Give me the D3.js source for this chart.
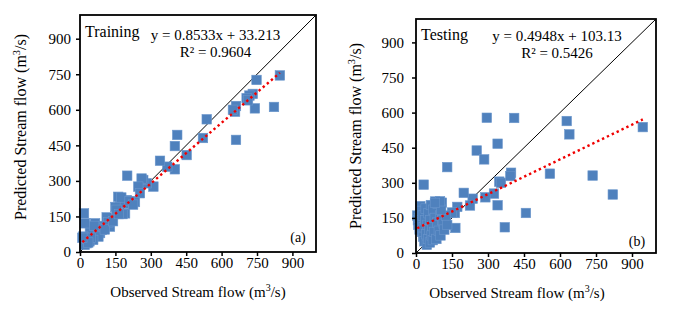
<!DOCTYPE html>
<html><head><meta charset="utf-8">
<script src="https://cdn.jsdelivr.net/npm/d3@7"></script>
<style>
body{margin:0;background:#fff;}
svg{display:block;}
text{font-family:"Liberation Serif","Times New Roman",serif;fill:#000;}
</style>
</head><body><svg id="c" width="678" height="314"></svg>
<script>
// ---------- data ----------
const tickValues = [0, 150, 300, 450, 600, 750, 900];
const axisMax = [1000];

const trainObs = [847,748,822,741,732,718,706,712,661,657,648,661,537,521,412,402,452,402,370,339,311,282,268,261,247,254,233,200,198,185,169,162,175,191,180,150,155,135,127,113,120,100,92,85,64,70,60,50,42,78,56,40,28,20,14,21,17,30,45,35,10,60,105,140,210,225,165];
const trainPred = [745,726,612,606,667,660,649,640,616,592,600,473,560,481,494,447,409,349,360,385,276,290,304,310,276,248,211,322,219,205,208,233,230,163,160,190,178,140,107,146,125,110,93,80,121,100,90,75,86,65,51,45,37,30,65,121,163,55,60,40,60,110,95,130,215,200,160];
const trainFit = [0.8533, 33.213];
const trainLabels = ["Training", "y = 0.8533x + 33.213", "R² = 0.9604", "(a)"];

const testObs = [945,628,639,558,736,820,458,370,295,409,340,253,284,396,393,347,354,325,289,236,225,340,199,172,162,164,130,32,150,
  5,8,10,12,15,18,20,22,25,28,30,32,35,38,40,42,45,48,50,52,55,58,60,62,65,68,70,72,75,78,80,85,88,90,95,100,102,108,110,115,118,125,130,105,100,79];
const testPred = [538,564,507,339,331,250,171,110,578,577,467,438,400,343,329,305,300,254,238,232,203,204,257,197,171,107,367,292,173,
  160,140,120,150,100,200,180,130,90,160,70,110,50,140,190,80,35,120,60,170,100,45,140,205,75,115,55,185,90,150,220,60,130,210,95,160,75,215,140,125,100,160,120,185,221,214];
const testFit = [0.4948, 103.13];
const testLabels = ["Testing", "y = 0.4948x + 103.13", "R² = 0.5426", "(b)"];

const xTitle = "Observed Stream flow (m";
const yTitle = "Predicted Stream flow (m";

// ---------- drawing ----------
const svg = d3.select("#c");

function panel(cfg, obs, pred, fit, labels) {
  const x = d3.scaleLinear().domain([0, axisMax[0]]).range([cfg.left, cfg.right]);
  const y = d3.scaleLinear().domain([0, axisMax[0]]).range([cfg.bottom, cfg.top]);
  const g = svg.append("g");

  // 1:1 line
  g.append("line")
    .attr("x1", x(0)).attr("y1", y(0)).attr("x2", x(axisMax[0])).attr("y2", y(axisMax[0]))
    .attr("stroke", "#000").attr("stroke-width", 1);

  // points
  const pts = obs.map((v, i) => [v, pred[i]]);
  const s = 9.5;
  g.selectAll("rect.pt").data(pts).join("rect").attr("class", "pt")
    .attr("x", d => x(d[0]) - s / 2).attr("y", d => y(d[1]) - s / 2)
    .attr("width", s).attr("height", s)
    .attr("fill", "#4f81bd").attr("stroke", "#6a96cc").attr("stroke-width", 0.6);

  // trend line
  const xmin = d3.min(obs), xmax = d3.max(obs);
  g.append("line")
    .attr("x1", x(xmin)).attr("y1", y(fit[0] * xmin + fit[1]))
    .attr("x2", x(xmax)).attr("y2", y(fit[0] * xmax + fit[1]))
    .attr("stroke", "#f00000").attr("stroke-width", 2.4)
    .attr("stroke-dasharray", "2.4 3");

  // frame
  g.append("rect").attr("x", cfg.left).attr("y", cfg.top)
    .attr("width", cfg.right - cfg.left).attr("height", cfg.bottom - cfg.top)
    .attr("fill", "none").attr("stroke", "#000").attr("stroke-width", 1.8);

  // axes
  const ax = g.append("g").attr("transform", `translate(0,${cfg.bottom})`)
    .call(d3.axisBottom(x).tickValues(tickValues).tickSize(4).tickPadding(1));
  const ay = g.append("g").attr("transform", `translate(${cfg.left},0)`)
    .call(d3.axisLeft(y).tickValues(tickValues).tickSize(4).tickPadding(cfg.yPad));
  [ax, ay].forEach(a => {
    a.select(".domain").remove();
    a.selectAll(".tick line").attr("stroke", "#000").attr("stroke-width", 1.5);
    a.selectAll(".tick text").style("font-family", '"Liberation Serif","Times New Roman",serif')
      .style("font-size", "15px").attr("fill", "#000");
  });

  // axis titles
  const xt = g.append("text").attr("x", cfg.xTitleX).attr("y", cfg.xTitleY)
    .attr("text-anchor", "middle").style("font-size", "15px");
  xt.append("tspan").text(xTitle);
  xt.append("tspan").text("3").attr("dy", -6).style("font-size", "10px");
  xt.append("tspan").text("/s)").attr("dy", 6);

  const yt = g.append("text")
    .attr("transform", `translate(${cfg.yTitleX},${cfg.yTitleY}) rotate(-90)`)
    .attr("text-anchor", "middle").style("font-size", cfg.yTitleSize + "px");
  yt.append("tspan").text(yTitle);
  yt.append("tspan").text("3").attr("dy", -cfg.yTitleSize * 0.4).style("font-size", (cfg.yTitleSize * 0.65) + "px");
  yt.append("tspan").text("/s)").attr("dy", cfg.yTitleSize * 0.4);

  // labels
  g.append("text").attr("x", cfg.left + 5).attr("y", cfg.nameY).style("font-size", "16px").text(labels[0]);
  g.append("text").attr("x", cfg.eqX).attr("y", cfg.eqY).attr("text-anchor", "middle").style("font-size", "15px").text(labels[1]);
  g.append("text").attr("x", cfg.eqX).attr("y", cfg.eqY + 17).attr("text-anchor", "middle").style("font-size", "15px").text(labels[2]);
  g.append("text").attr("x", cfg.tagX).attr("y", cfg.tagY).attr("text-anchor", "middle").style("font-size", "14px").text(labels[3]);
}

panel({left: 80, right: 316, top: 15, bottom: 252, yPad: 5,
       xTitleX: 198, xTitleY: 297, yTitleX: 26, yTitleY: 127, yTitleSize: 16,
       nameY: 37, eqX: 215.5, eqY: 40, tagX: 298, tagY: 242},
      trainObs, trainPred, trainFit, trainLabels);

panel({left: 416, right: 656, top: 19, bottom: 253, yPad: 8,
       xTitleX: 517, xTitleY: 298, yTitleX: 361, yTitleY: 136, yTitleSize: 16,
       nameY: 40, eqX: 557, eqY: 40.5, tagX: 637, tagY: 246},
      testObs, testPred, testFit, testLabels);
</script></body></html>
